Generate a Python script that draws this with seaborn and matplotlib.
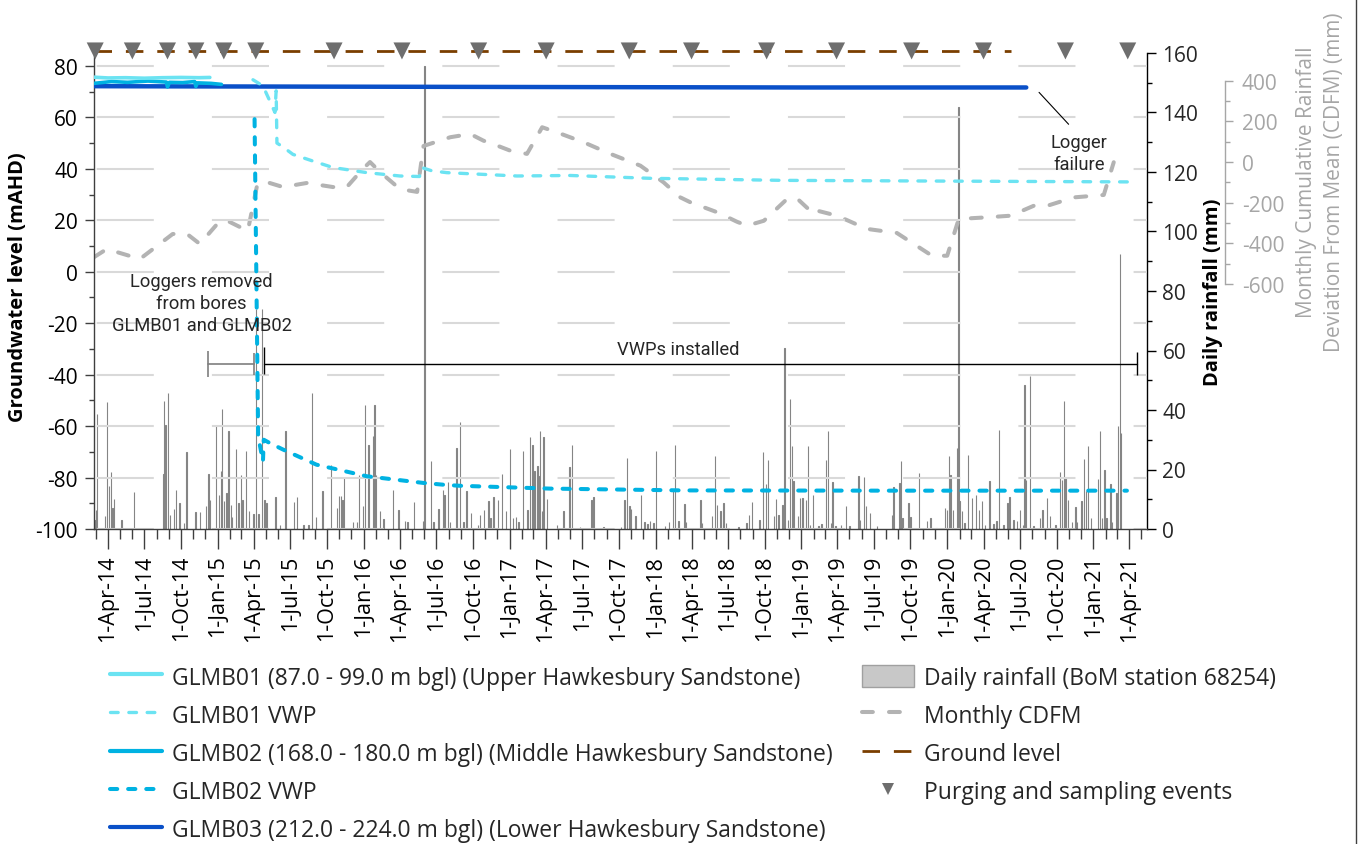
import pandas as pd
import numpy as np
import matplotlib
matplotlib.use("Agg")
import matplotlib.pyplot as plt
import matplotlib.dates as mdates
from matplotlib.ticker import MultipleLocator, FuncFormatter
from matplotlib.lines import Line2D
from matplotlib.patches import Patch
import seaborn as sns

# ---------------- data ----------------
x_start, x_end = "2014-02-25", "2021-05-14"

g01_dates = ["2014-02-25", "2014-04-01", "2014-05-15", "2014-07-01", "2014-08-15", "2014-10-01", "2014-11-15", "2014-12-12"]
g01_vals = [75.6, 75.3, 75.4, 75.2, 75.4, 75.5, 75.4, 75.5]

g02_dates = ["2014-02-25", "2014-04-10", "2014-05-20", "2014-07-10", "2014-08-25", "2014-08-28", "2014-09-02",
             "2014-10-05", "2014-11-04", "2014-11-07", "2014-11-11", "2014-12-15", "2015-01-10"]
g02_vals = [73.2, 73.9, 73.6, 74.1, 73.7, 71.8, 73.6, 73.5, 73.9, 72.0, 73.4, 73.2, 72.8]

g03_dates = ["2014-02-25", "2015-01-01", "2016-01-01", "2017-01-01", "2018-01-01", "2019-01-01", "2020-01-01", "2020-07-17"]
g03_vals = [72.1, 72.0, 71.9, 71.8, 71.7, 71.6, 71.6, 71.6]

v01_dates = ["2015-03-30", "2015-04-24", "2015-05-11", "2015-05-24", "2015-05-27", "2015-05-29", "2015-06-13",
             "2015-07-08", "2015-08-27", "2015-10-16", "2016-01-09", "2016-04-01", "2016-05-20", "2016-05-25",
             "2016-06-20", "2016-07-27", "2017-01-19", "2017-06-01", "2017-12-18", "2018-11-16", "2019-08-28",
             "2021-04-03"]
v01_vals = [74.6, 72.2, 66.4, 61.9, 70.3, 50.0, 48.5, 45.6, 43.0, 40.5, 38.5, 37.2, 37.0, 40.5,
            39.2, 38.5, 37.2, 37.4, 36.3, 35.5, 35.3, 34.9]

v02_dates = ["2015-04-03", "2015-04-12", "2015-04-24", "2015-04-26", "2015-05-10", "2015-06-13", "2015-09-05",
             "2016-01-09", "2016-05-30", "2016-07-27", "2016-08-29", "2017-04-12", "2018-03-11", "2019-08-19",
             "2021-03-26"]
v02_vals = [59.3, -64.0, -73.7, -65.3, -66.5, -69.1, -75.0, -79.5, -82.1, -82.9, -83.2, -84.3, -85.0, -85.1, -85.1]

ground_dates = ["2014-02-25", "2020-06-10"]
ground_level = 85.8

purge_dates = ["2014-02-28", "2014-06-01", "2014-08-28", "2014-11-07", "2015-01-16", "2015-04-06", "2015-10-19",
               "2016-04-06", "2016-10-15", "2017-04-02", "2017-10-27", "2018-04-01", "2018-10-06", "2019-03-30",
               "2019-10-04", "2020-04-01", "2020-10-23", "2021-03-28"]

cdfm_dates = ["2014-02-25", "2014-03-29", "2014-06-20", "2014-09-10", "2014-10-16", "2014-11-17", "2015-01-06",
              "2015-01-31", "2015-03-17", "2015-04-09", "2015-04-24", "2015-06-13", "2015-08-12", "2015-10-16",
              "2015-11-20", "2015-12-30", "2016-01-17", "2016-02-11", "2016-04-01", "2016-05-14", "2016-05-30",
              "2016-08-05", "2016-09-24", "2016-10-27", "2016-11-30", "2017-01-02", "2017-02-13", "2017-03-23",
              "2017-04-29", "2017-07-05", "2017-09-10", "2017-11-24", "2018-01-21", "2018-03-04", "2018-03-29",
              "2018-06-04", "2018-07-24", "2018-08-18", "2018-09-29", "2018-11-26", "2018-12-21", "2019-02-01",
              "2019-02-09", "2019-03-31", "2019-06-14", "2019-08-28", "2019-11-24", "2020-01-01", "2020-01-30",
              "2020-04-10", "2020-06-08", "2020-08-05", "2020-09-08", "2020-11-13", "2021-01-27", "2021-02-21"]
cdfm_vals = [-468, -428, -477, -354, -354, -403, -290, -295, -339, -118, -93, -123, -103, -123,
             -123, -34, 0, -49, -133, -147, 79, 122, 138, 105, 81, 56, 40, 171,
             146, 97, 40, -18, -100, -174, -198, -247, -294, -313, -289, -182, -179, -256,
             -239, -264, -329, -349, -461, -461, -280, -272, -264, -215, -215, -174, -162, -1]

# daily rainfall: days since 1-Mar-2014 and mm
rain_origin = "2014-03-01"
rain_day = [-3, 1, 4, 24, 28, 34, 38, 42, 46, 65,
            96, 170, 171, 175, 181, 186, 196, 202, 210, 222,
            228, 250, 261, 277, 283, 287, 301, 309, 314, 317,
            322, 328, 333, 339, 342, 352, 358, 364, 368, 377,
            384, 395, 401, 408, 416, 423, 428, 450, 462, 475,
            497, 504, 520, 533, 542, 552, 568, 590, 604, 610,
            614, 618, 622, 645, 654, 660, 669, 675, 683, 694,
            698, 702, 712, 721, 744, 758, 775, 781, 797, 819,
            823, 839, 846, 858, 869, 873, 883,
            888, 904, 913, 921, 929, 940, 957, 963, 973, 984,
            989, 996, 1007, 1017, 1027, 1038, 1045, 1053, 1059, 1070,
            1081, 1088, 1094, 1099, 1106, 1109, 1113, 1117, 1121, 1130,
            1155, 1171, 1186, 1192, 1213, 1242, 1247, 1272, 1315, 1324,
            1330, 1337, 1341, 1352, 1366, 1374, 1382, 1388, 1397, 1403,
            1426, 1436, 1445, 1451, 1459, 1474, 1478, 1514, 1518, 1543,
            1550, 1555, 1564, 1572, 1579, 1610, 1630, 1636, 1643, 1662,
            1671, 1679, 1683, 1699, 1704, 1710, 1720, 1725, 1733, 1739,
            1743, 1747, 1758, 1764, 1770,
            1778, 1784, 1789, 1796, 1810, 1817, 1829, 1833, 1841, 1845,
            1852, 1866, 1879, 1887, 1910, 1914, 1923, 1929, 1939, 1956,
            1994, 1998, 2013, 2016, 2020, 2035, 2040, 2061, 2081, 2090,
            2105, 2127, 2131, 2136, 2140, 2146, 2156, 2160, 2163, 2169,
            2175, 2184, 2194, 2204, 2212, 2219, 2227, 2238, 2248, 2255,
            2262, 2273, 2283, 2288, 2298, 2307, 2315, 2322, 2326, 2330,
            2340, 2348, 2365, 2371, 2382, 2390, 2403, 2415, 2419, 2424,
            2428, 2434, 2444, 2453, 2457, 2468, 2474, 2480, 2484, 2492,
            2510, 2515, 2520, 2526, 2531, 2541, 2545, 2556, 2560, 2564,
            2567]
rain_mm = [3.0, 6.5, 38.6, 4.3, 42.7, 14.3, 19.1, 7.0, 10.0, 3.0,
           12.3, 18.5, 42.9, 35.0, 45.8, 4.8, 6.7, 13.2, 8.6, 2.0,
           25.8, 5.7, 5.6, 7.6, 18.5, 9.9, 34.8, 11.5, 19.6, 40.4,
           9.3, 12.1, 33.0, 8.2, 3.9, 26.9, 8.7, 18.3, 9.9, 26.3,
           5.9, 5.0, 74.0, 5.0, 74.0, 9.9, 8.7, 10.8, 1.5, 33.0,
           9.0, 10.6, 1.5, 1.5, 45.7, 4.0, 12.9, 21.6, 7.0, 11.2,
           11.0, 9.9, 17.5, 2.5, 2.5, 18.3, 7.6, 41.8, 28.3, 31.1,
           41.8, 18.3, 5.9, 3.4, 13.2, 6.5, 2.8, 2.5, 9.1, 2.8,
           155.6, 22.7, 2.5, 6.8, 13.2, 11.5, 15.8,
           2.5, 27.2, 35.8, 2.5, 12.7, 5.4, 1.5, 4.8, 6.4, 9.3,
           3.7, 10.8, 9.6, 18.5, 5.9, 26.9, 3.7, 4.0, 2.5, 26.3,
           6.5, 30.9, 28.3, 19.4, 21.3, 17.7, 32.8, 6.0, 30.9, 10.2,
           1.2, 6.2, 21.0, 28.3, 0.6, 9.9, 10.6, 0.6, 0.6, 9.9,
           23.9, 7.6, 6.8, 4.3, 11.5, 2.3, 1.7, 2.8, 2.0, 26.1,
           1.0, 2.5, 12.7, 28.3, 2.8, 8.4, 2.5, 9.9, 2.0, 4.3,
           24.7, 8.0, 6.0, 8.7, 2.0, 0.7, 2.0, 4.8, 9.1, 3.1,
           25.8, 15.2, 23.3, 4.5, 10.1, 4.8, 8.2, 60.8, 3.1, 43.8,
           27.8, 16.0, 4.3, 10.4, 10.4,
           9.9, 27.8, 1.5, 11.3, 1.0, 1.7, 23.3, 33.0, 2.0, 15.7,
           1.0, 1.5, 7.8, 1.0, 17.7, 3.1, 17.4, 7.8, 5.4, 1.0,
           4.7, 14.1, 15.5, 22.7, 3.7, 8.7, 3.9, 18.8, 2.8, 3.7,
           0.4, 7.0, 6.5, 24.4, 18.3, 6.5, 27.2, 142.0, 9.3, 6.0,
           2.0, 25.0, 10.4, 11.5, 6.5, 9.3, 1.5, 16.0, 1.7, 2.6,
           33.4, 1.5, 8.7, 10.8, 3.1, 2.6, 6.5, 1.5, 48.5, 16.6,
           51.4, 1.0, 3.7, 6.5, 10.4, 4.3, 1.5, 19.1, 16.6, 42.9,
           17.1, 9.9, 2.5, 7.3, 2.5, 9.5, 23.6, 12.7, 28.0, 3.7,
           16.9, 32.8, 3.7, 19.9, 3.7, 15.1, 2.5, 12.1, 34.5, 92.4,
           32.3]

# annotation anchors
removed_span = ["2014-12-07", "2015-04-01"]
vwp_span = ["2015-04-27", "2021-04-20"]
bracket_level = -35.8
removed_text_pos = ("2014-11-21", -12.1)
vwp_text_pos = ("2018-02-26", -30.0)
failure_text_pos = ("2020-11-26", 46.2)
failure_leader = (["2020-08-18", "2020-10-31"], [69.7, 57.3])

# ---------------- style ----------------
sns.set_theme(style="white")
plt.rcParams["font.family"] = ["Open Sans", "DejaVu Sans"]
plt.rcParams["axes.unicode_minus"] = False

C01 = "#6BE3F2"
C02 = "#00B2E2"
C03 = "#0A50C8"
CGL = "#7A3E00"
CTRI = "#6E6E6E"
CCDFM = "#B3B3B3"
CRAIN = "#858585"
CAX3 = "#A6A6A6"
CSP = "#3F3F3F"
NARROW = ["Roboto", "Open Sans", "DejaVu Sans"]

D = pd.to_datetime

fig = plt.figure(figsize=(13.59, 8.45), dpi=100)
L, B = 94 / 1359, 1 - 530 / 845
W, H = (1146.5 - 94) / 1359, (530 - 54) / 845
ax = fig.add_axes([L, B, W, H])
ax2 = ax.twinx()
ax3 = fig.add_axes([L, 1 - 285 / 845, W, (285 - 81.7) / 845], sharex=ax)
ax2.set_zorder(1)
ax3.set_zorder(2)
ax.set_zorder(3)
for a in (ax, ax2, ax3):
    a.patch.set_visible(False)

# rainfall bars
rain_dates = D(rain_origin) + pd.to_timedelta(rain_day, unit="D")
ax2.bar(rain_dates, rain_mm, width=1.0, color=CRAIN, edgecolor=CRAIN, linewidth=0.8, zorder=1)

def line(axis, dates, vals, **kw):
    sns.lineplot(x=D(dates), y=vals, ax=axis, estimator=None, sort=False, legend=False, **kw)

# CDFM
line(ax3, cdfm_dates, cdfm_vals, color=CCDFM, linewidth=2.9, linestyle=(0, (2.7, 4.0)),
     dash_capstyle="round")

# groundwater
line(ax, g03_dates, g03_vals, color=C03, linewidth=3.2, zorder=4)
line(ax, g02_dates, g02_vals, color=C02, linewidth=2.6, zorder=5)
line(ax, g01_dates, g01_vals, color=C01, linewidth=2.6, zorder=6)
line(ax, v01_dates, v01_vals, color=C01, linewidth=2.4, linestyle=(0, (2.3, 3.2)),
     dash_capstyle="round", zorder=6)
line(ax, v02_dates, v02_vals, color=C02, linewidth=2.9, linestyle=(0, (1.8, 2.7)),
     dash_capstyle="round", zorder=6)
line(ax, ground_dates, [ground_level] * len(ground_dates), color=CGL, linewidth=2.0,
     linestyle=(0, (6.3, 5.0)), clip_on=False, zorder=7)
sns.scatterplot(x=D(purge_dates), y=[ground_level] * len(purge_dates), ax=ax, marker="v", s=150,
                color=CTRI, edgecolor="none", clip_on=False, zorder=8, legend=False)

# annotations
ax.plot(D(removed_span), [bracket_level] * 2, color="#7F7F7F", lw=1.2)
ax.vlines(D(removed_span), [bracket_level - 5.0, bracket_level - 4.3], [bracket_level + 5.0, bracket_level + 4.3],
          color="#7F7F7F", lw=1.2)
ax.plot(D(vwp_span), [bracket_level] * 2, color="black", lw=1.0)
ax.vlines(D(vwp_span), [bracket_level - 4.0, bracket_level - 4.4], [bracket_level + 6.5, bracket_level + 4.5],
          color="black", lw=1.0)
ann_kw = dict(ha="center", va="center", fontsize=13.2, family=NARROW, fontstretch="condensed", zorder=9)
ax.text(D(removed_text_pos[0]), removed_text_pos[1], "Loggers removed\nfrom bores\nGLMB01 and GLMB02",
        linespacing=1.3, **ann_kw)
ax.text(D(vwp_text_pos[0]), vwp_text_pos[1], "VWPs installed", **ann_kw)
ax.text(D(failure_text_pos[0]), failure_text_pos[1], "Logger\nfailure", linespacing=1.3, **ann_kw)
ax.plot(D(failure_leader[0]), failure_leader[1], color="black", lw=0.8)

# ---------------- axes ----------------
ax.set_xlim(D(x_start), D(x_end))
ax.set_ylim(-100, 85)
ax2.set_ylim(0, 160)
ax3.set_ylim(-600, 400)

ax.yaxis.set_major_locator(MultipleLocator(20))
ax.yaxis.set_minor_locator(MultipleLocator(10))
ax2.yaxis.set_major_locator(MultipleLocator(20))
ax2.yaxis.set_minor_locator(MultipleLocator(10))
ax3.yaxis.set_major_locator(MultipleLocator(200))
ax3.yaxis.set_minor_locator(MultipleLocator(100))

ax.xaxis.set_major_locator(mdates.MonthLocator(bymonth=[1, 4, 7, 10]))
ax.xaxis.set_minor_locator(mdates.MonthLocator())


def fmt_date(v, pos=None):
    d = mdates.num2date(v)
    return f"{d.day}-{d.strftime('%b-%y')}"


ax.xaxis.set_major_formatter(FuncFormatter(fmt_date))

ax.yaxis.grid(True, which="major", color="#D9D9D9", linewidth=1.5, linestyle=(54.0, (27.4, 27.9)))
ax.xaxis.grid(False)
ax.set_axisbelow(True)

for s in ("top", "right"):
    ax.spines[s].set_visible(False)
for s in ("top", "left", "bottom"):
    ax2.spines[s].set_visible(False)
    ax3.spines[s].set_visible(False)
ax.spines["left"].set_color(CSP)
ax.spines["bottom"].set_color(CSP)
ax.spines["left"].set_linewidth(1.0)
ax.spines["bottom"].set_linewidth(1.0)
ax2.spines["right"].set_color("black")
ax2.spines["right"].set_linewidth(1.0)
ax3.spines["right"].set_color(CAX3)
ax3.spines["right"].set_linewidth(1.0)
ax3.spines["right"].set_position(("outward", 56.5))

ax.tick_params(axis="y", which="major", left=True, length=6.5, width=1, color=CSP, labelsize=15, pad=5,
               labelcolor="black")
ax.tick_params(axis="y", which="minor", left=True, length=3.5, width=1, color=CSP)
ax.tick_params(axis="x", which="major", bottom=True, length=14.5, width=1, color=CSP, labelsize=15.5,
               labelrotation=90, pad=4, labelcolor="black")
ax.tick_params(axis="x", which="minor", bottom=True, length=7, width=1, color=CSP)

ax2.tick_params(axis="y", which="major", right=True, length=6.5, width=1, color="black", labelsize=15, pad=5)
ax2.tick_params(axis="y", which="minor", right=True, length=3.5, width=1, color="black")
ax2.tick_params(axis="x", which="both", bottom=False, labelbottom=False)

ax3.tick_params(axis="y", which="major", right=True, left=False, labelright=True, labelleft=False, length=6,
                width=1, color=CAX3, labelsize=15, labelcolor=CAX3, pad=6)
ax3.tick_params(axis="y", which="minor", right=True, left=False, length=3.5, width=1, color=CAX3)
ax3.tick_params(axis="x", which="both", bottom=False, labelbottom=False)

ax.set_xlabel("")
ax3.set_xlabel("")
ax.set_ylabel("Groundwater level (mAHD)", fontsize=14.5, fontweight="bold", color="black")
ax.yaxis.set_label_coords(-0.0627, 0.51)
ax2.set_ylabel("Daily rainfall (mm)", fontsize=14.5, fontweight="bold", color="black")
ax2.yaxis.set_label_coords(1.054, 0.5)
ax3.yaxis.set_label_position("right")
ax3.set_ylabel("Monthly Cumulative Rainfall\nDeviation From Mean (CDFM) (mm)", fontsize=15, color=CAX3,
               linespacing=1.45)
ax3.yaxis.set_label_coords(1.142, 0.507)

# ---------------- legends ----------------
h1 = [Line2D([], [], color=C01, lw=3),
      Line2D([], [], color=C01, lw=2.4, linestyle=(0, (2.3, 3.2)), dash_capstyle="round"),
      Line2D([], [], color=C02, lw=3),
      Line2D([], [], color=C02, lw=2.9, linestyle=(0, (1.8, 2.7)), dash_capstyle="round"),
      Line2D([], [], color=C03, lw=3)]
l1 = ["GLMB01 (87.0 - 99.0 m bgl) (Upper Hawkesbury Sandstone)",
      "GLMB01 VWP",
      "GLMB02 (168.0 - 180.0 m bgl) (Middle Hawkesbury Sandstone)",
      "GLMB02 VWP",
      "GLMB03 (212.0 - 224.0 m bgl) (Lower Hawkesbury Sandstone)"]
h2 = [Patch(facecolor="#C8C8C8", edgecolor="#A0A0A0", linewidth=1),
      Line2D([], [], color=CCDFM, lw=2.9, linestyle=(0, (2.7, 4.0)), dash_capstyle="round"),
      Line2D([], [], color=CGL, lw=2.0, linestyle=(0, (6.3, 5.0))),
      Line2D([], [], color=CTRI, marker="v", linestyle="none", markersize=8, markeredgewidth=0)]
l2 = ["Daily rainfall (BoM station 68254)", "Monthly CDFM", "Ground level", "Purging and sampling events"]

legkw = dict(loc="upper left", frameon=False, fontsize=16.5, handlelength=2.25, handletextpad=0.45,
             labelspacing=0.58, borderpad=0, borderaxespad=0, handleheight=1.1)
fig.legend(handles=h1, labels=l1, bbox_to_anchor=(110 / 1359, 1 - 666 / 845), **legkw)
fig.legend(handles=h2, labels=l2, bbox_to_anchor=(862 / 1359, 1 - 666 / 845), **legkw)

fig.add_artist(Line2D([1355.5 / 1359] * 2, [0, 1], transform=fig.transFigure, color="#404040", lw=1))

fig.savefig("out.png", dpi=100)
